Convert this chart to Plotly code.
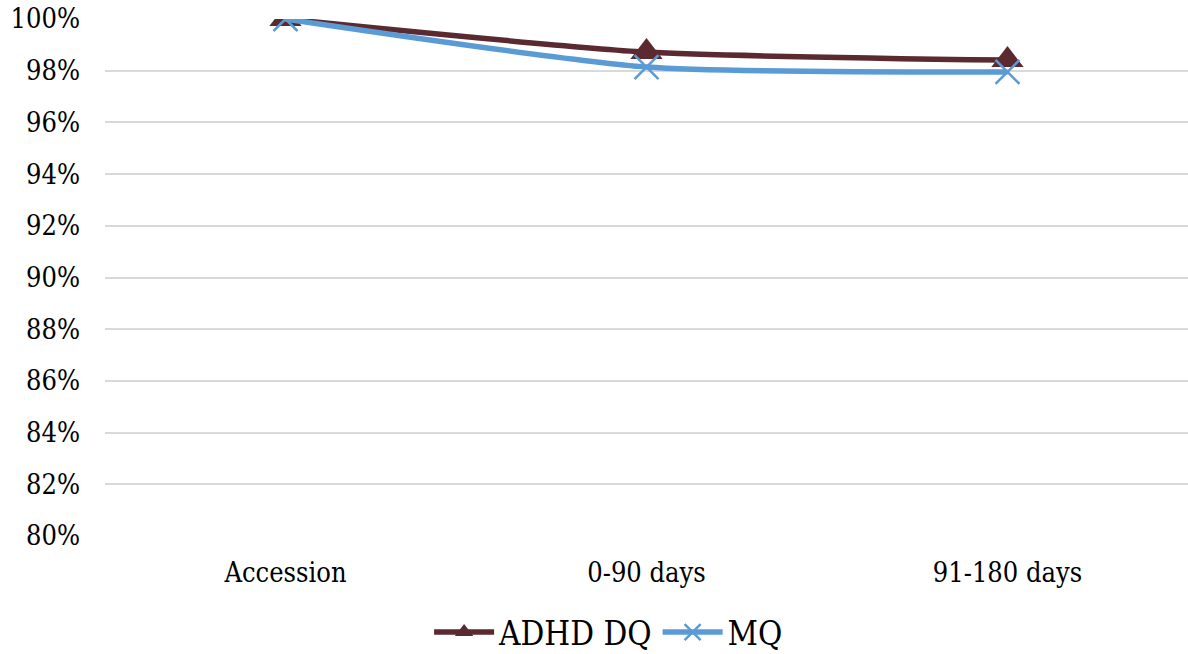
import plotly.graph_objects as go

categories = ["Accession", "0-90 days", "91-180 days"]
adhd_dq = [100.0, 98.72, 98.41]
mq = [100.0, 98.14, 97.95]
tick_vals = [80, 82, 84, 86, 88, 90, 92, 94, 96, 98, 100]
tick_text = ["80%", "82%", "84%", "86%", "88%", "90%", "92%", "94%", "96%", "98%", "100%"]

FONT = "DejaVu Serif Condensed, DejaVu Serif"
fig = go.Figure()
fig.add_trace(go.Scatter(
    x=categories, y=adhd_dq, name="ADHD DQ", mode="lines+markers",
    line=dict(color="#5B2A31", width=5.5, shape="spline", smoothing=0.6),
    marker=dict(symbol="triangle-up", size=28, color="#5B2A31"),
))
fig.add_trace(go.Scatter(
    x=categories, y=mq, name="MQ", mode="lines+markers",
    line=dict(color="#5B9BD5", width=5.5, shape="spline", smoothing=0.6),
    marker=dict(symbol="x-thin-open", size=24, color="#5B9BD5",
                line=dict(color="#5B9BD5", width=2.5)),
))
fig.update_layout(
    width=1188, height=654,
    margin=dict(l=105, r=0, t=19, b=118, autoexpand=False),
    paper_bgcolor="white", plot_bgcolor="white",
    font=dict(family=FONT, size=27, color="#000000"),
    showlegend=True,
    legend=dict(orientation="h", x=0.465, xanchor="center", y=-0.186, yanchor="middle",
                font=dict(size=33, family=FONT), itemwidth=60, traceorder="normal"),
)
fig.update_xaxes(type="category", range=[-0.5, 2.5], showgrid=False, zeroline=False,
                 showline=False, ticks="", ticklabelstandoff=18, automargin=False,
                 tickfont=dict(size=27, family=FONT))
fig.update_yaxes(range=[80, 100], tickvals=tick_vals, ticktext=tick_text,
                 showgrid=True, gridcolor="#D9D9D9", gridwidth=1.5, automargin=False,
                 zeroline=False, showline=False, ticks="", ticklabelstandoff=24,
                 tickfont=dict(size=27, family=FONT))
fig.write_html("out.html")
